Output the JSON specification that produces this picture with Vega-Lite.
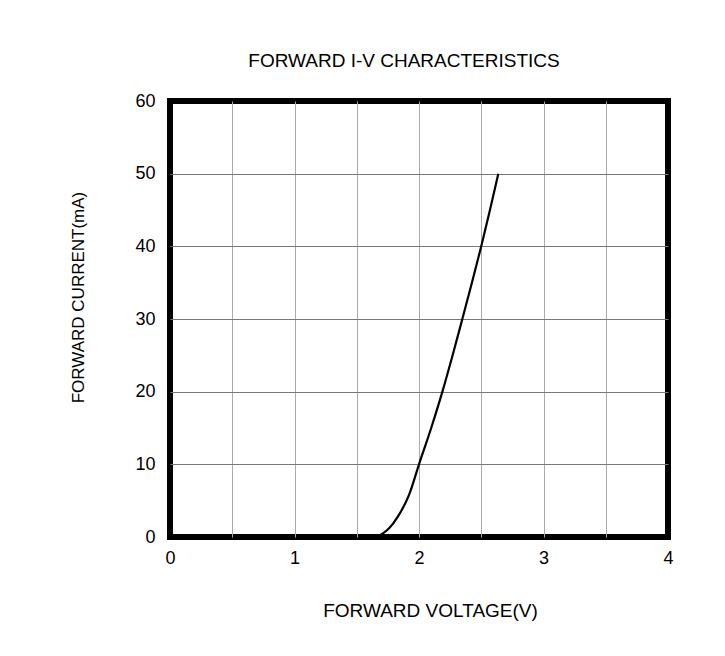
{
  "$schema": "https://vega.github.io/schema/vega-lite/v6.json",
  "autosize": {"type": "none"},
  "padding": {"left": 170, "top": 101, "right": 57, "bottom": 119},
  "width": 498,
  "height": 436,
  "background": "white",
  "title": {
    "text": "FORWARD I-V CHARACTERISTICS",
    "font": "Liberation Sans",
    "fontSize": 19,
    "fontWeight": "normal",
    "color": "#000",
    "anchor": "middle",
    "dx": -15,
    "offset": 21
  },
  "data": {
    "values": [
      {"V": 1.55, "I": 0},
      {"V": 1.62, "I": 0},
      {"V": 1.67, "I": 0.15},
      {"V": 1.71, "I": 0.5},
      {"V": 1.76, "I": 1.2},
      {"V": 1.83, "I": 2.8},
      {"V": 1.92, "I": 5.8},
      {"V": 2.0, "I": 10},
      {"V": 2.098, "I": 15},
      {"V": 2.188, "I": 20},
      {"V": 2.27, "I": 25},
      {"V": 2.348, "I": 30},
      {"V": 2.425, "I": 35},
      {"V": 2.5, "I": 40},
      {"V": 2.57, "I": 45},
      {"V": 2.637, "I": 50}
    ]
  },
  "mark": {"type": "line", "color": "black", "strokeWidth": 2.2, "interpolate": "monotone"},
  "encoding": {
    "x": {
      "field": "V",
      "type": "quantitative",
      "scale": {"domain": [0, 4], "nice": false},
      "axis": {
        "title": "FORWARD VOLTAGE(V)",
        "values": [0, 0.5, 1, 1.5, 2, 2.5, 3, 3.5, 4],
        "format": "~g",
        "labelExpr": "datum.value % 1 === 0 ? datum.label : ''",
        "labelFlush": false,
        "labelOverlap": false,
        "gridColor": "#aaa",
        "gridOpacity": {"condition": {"test": "datum.value === 0 || datum.value === 4", "value": 0}, "value": 1},
        "domain": false,
        "ticks": false,
        "labelPadding": 12,
        "labelFontSize": 18,
        "labelFont": "Liberation Sans",
        "labelColor": "#000",
        "titleFont": "Liberation Sans",
        "titleFontSize": 19,
        "titleFontWeight": "normal",
        "titleColor": "#000",
        "titleX": 260,
        "titleY": 73,
        "titleBaseline": "middle"
      }
    },
    "y": {
      "field": "I",
      "type": "quantitative",
      "scale": {"domain": [0, 60], "nice": false},
      "axis": {
        "title": "FORWARD CURRENT(mA)",
        "values": [0, 10, 20, 30, 40, 50, 60],
        "labelFlush": false,
        "labelOverlap": false,
        "gridColor": "#777",
        "gridOpacity": {"condition": {"test": "datum.value === 0 || datum.value === 60", "value": 0}, "value": 1},
        "domain": false,
        "ticks": false,
        "labelPadding": 15,
        "labelFontSize": 18,
        "labelFont": "Liberation Sans",
        "labelColor": "#000",
        "titleFont": "Liberation Sans",
        "titleFontSize": 17,
        "titleFontWeight": "normal",
        "titleColor": "#000",
        "titleX": -92,
        "titleY": 196,
        "titleBaseline": "middle",
        "titleAngle": -90
      }
    }
  },
  "config": {
    "view": {"stroke": "black", "strokeWidth": 6}
  }
}
